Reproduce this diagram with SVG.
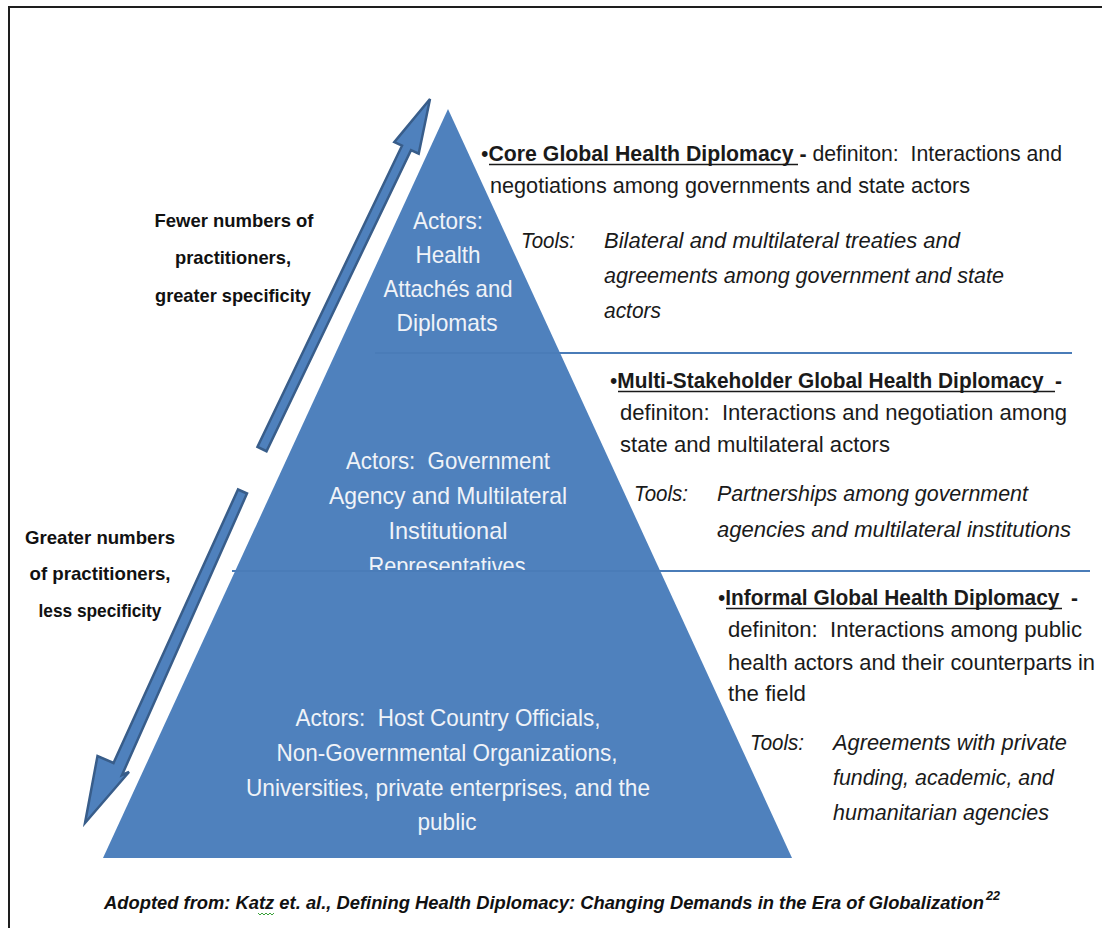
<svg xmlns="http://www.w3.org/2000/svg" width="1102" height="928" viewBox="0 0 1102 928">
<style>
text{font-family:"Liberation Sans",Arial,sans-serif;white-space:pre}
.pt{fill:#f0f3f8;font-size:24px;text-anchor:middle}
.lb{fill:#111;font-size:19px;font-weight:bold;text-anchor:middle}
.rt{fill:#1a1a1a;font-size:22px}
.it{font-style:italic}
.b{font-weight:bold}
.ul{stroke:#1a1a1a;stroke-width:1.6}
.arrow{fill:#4f81bd;stroke:#385d8a;stroke-width:2.5;stroke-linejoin:miter}
.sep{stroke:#4a7cb8;stroke-width:2;fill:none}
</style>
<defs>
<clipPath id="midclip"><rect x="0" y="0" width="1102" height="570"/></clipPath>
</defs>
<rect width="1102" height="928" fill="#ffffff"/>
<path d="M9,928 V7 H1102" fill="none" stroke="#1e1e1e" stroke-width="2"/>

<g id="pyramid">
<polygon points="448,109 792,858 103,858" fill="#4f81bd"/>
</g>

<g id="connectors">
<line class="sep" x1="375" y1="353" x2="1072" y2="353"/>
<line class="sep" x1="232" y1="571" x2="1090" y2="571"/>
<polygon class="arrow" points="257.5,446.8 402,145.7 394.3,142.1 430,99 418.7,153.7 411,150.1 266.5,451.2"/>
<polygon class="arrow" points="238,489.5 113.5,763 97.5,756 85,823 129,772 122,775 247,493.5"/>
</g>

<g id="tier-top">
<text class="pt" x="448" y="229" textLength="70" lengthAdjust="spacingAndGlyphs">Actors:</text>
<text class="pt" x="448" y="263" textLength="65" lengthAdjust="spacingAndGlyphs">Health</text>
<text class="pt" x="448" y="297" textLength="129" lengthAdjust="spacingAndGlyphs">Attachés and</text>
<text class="pt" x="447" y="331" textLength="101" lengthAdjust="spacingAndGlyphs">Diplomats</text>
</g>

<g id="tier-middle" clip-path="url(#midclip)">
<text class="pt" x="448" y="469" textLength="204" lengthAdjust="spacingAndGlyphs">Actors:  Government</text>
<text class="pt" x="448" y="504" textLength="238" lengthAdjust="spacingAndGlyphs">Agency and Multilateral</text>
<text class="pt" x="448" y="539" textLength="119" lengthAdjust="spacingAndGlyphs">Institutional</text>
<text class="pt" x="447" y="574" textLength="157" lengthAdjust="spacingAndGlyphs">Representatives</text>
</g>

<g id="tier-bottom">
<text class="pt" x="448" y="726" textLength="305" lengthAdjust="spacingAndGlyphs">Actors:  Host Country Officials,</text>
<text class="pt" x="447" y="761" textLength="341" lengthAdjust="spacingAndGlyphs">Non-Governmental Organizations,</text>
<text class="pt" x="448" y="796" textLength="404" lengthAdjust="spacingAndGlyphs">Universities, private enterprises, and the</text>
<text class="pt" x="447" y="830" textLength="59" lengthAdjust="spacingAndGlyphs">public</text>
</g>

<g id="label-fewer">
<text class="lb" x="234" y="227" textLength="159" lengthAdjust="spacingAndGlyphs">Fewer numbers of</text>
<text class="lb" x="233" y="264" textLength="116" lengthAdjust="spacingAndGlyphs">practitioners,</text>
<text class="lb" x="233" y="302" textLength="156" lengthAdjust="spacingAndGlyphs">greater specificity</text>
</g>

<g id="label-greater">
<text class="lb" x="100" y="544" textLength="150" lengthAdjust="spacingAndGlyphs">Greater numbers</text>
<text class="lb" x="100" y="580" textLength="141" lengthAdjust="spacingAndGlyphs">of practitioners,</text>
<text class="lb" x="100" y="617" textLength="123" lengthAdjust="spacingAndGlyphs">less specificity</text>
</g>

<g id="core">
<text class="rt" x="481" y="161" textLength="581" lengthAdjust="spacingAndGlyphs">•<tspan class="b">Core Global Health Diplomacy -</tspan> definiton:  Interactions and</text>
<line class="ul" x1="489" y1="164.5" x2="798" y2="164.5"/>
<text class="rt" x="490" y="193" textLength="480" lengthAdjust="spacingAndGlyphs">negotiations among governments and state actors</text>
<text class="rt it" x="521" y="248" textLength="54" lengthAdjust="spacingAndGlyphs">Tools:</text>
<text class="rt it" x="604" y="248" textLength="356" lengthAdjust="spacingAndGlyphs">Bilateral and multilateral treaties and</text>
<text class="rt it" x="604" y="283" textLength="400" lengthAdjust="spacingAndGlyphs">agreements among government and state</text>
<text class="rt it" x="604" y="318" textLength="57" lengthAdjust="spacingAndGlyphs">actors</text>
</g>

<g id="multi">
<text class="rt" x="610" y="388" textLength="452" lengthAdjust="spacingAndGlyphs">•<tspan class="b">Multi-Stakeholder Global Health Diplomacy  -</tspan></text>
<line class="ul" x1="618" y1="391.5" x2="1055" y2="391.5"/>
<text class="rt" x="620" y="420" textLength="447" lengthAdjust="spacingAndGlyphs">definiton:  Interactions and negotiation among</text>
<text class="rt" x="620" y="452" textLength="270" lengthAdjust="spacingAndGlyphs">state and multilateral actors</text>
<text class="rt it" x="634" y="501" textLength="54" lengthAdjust="spacingAndGlyphs">Tools:</text>
<text class="rt it" x="717" y="501" textLength="311" lengthAdjust="spacingAndGlyphs">Partnerships among government</text>
<text class="rt it" x="717" y="537" textLength="354" lengthAdjust="spacingAndGlyphs">agencies and multilateral institutions</text>
</g>

<g id="informal">
<text class="rt" x="718" y="605" textLength="360" lengthAdjust="spacingAndGlyphs">•<tspan class="b">Informal Global Health Diplomacy  -</tspan></text>
<line class="ul" x1="726" y1="608.5" x2="1062" y2="608.5"/>
<text class="rt" x="728" y="637" textLength="354" lengthAdjust="spacingAndGlyphs">definiton:  Interactions among public</text>
<text class="rt" x="728" y="670" textLength="367" lengthAdjust="spacingAndGlyphs">health actors and their counterparts in</text>
<text class="rt" x="728" y="701" textLength="78" lengthAdjust="spacingAndGlyphs">the field</text>
<text class="rt it" x="750" y="750" textLength="54" lengthAdjust="spacingAndGlyphs">Tools:</text>
<text class="rt it" x="833" y="750" textLength="234" lengthAdjust="spacingAndGlyphs">Agreements with private</text>
<text class="rt it" x="833" y="785" textLength="221" lengthAdjust="spacingAndGlyphs">funding, academic, and</text>
<text class="rt it" x="833" y="820" textLength="216" lengthAdjust="spacingAndGlyphs">humanitarian agencies</text>
</g>

<g id="caption">
<text x="104" y="909" font-size="18" font-weight="bold" font-style="italic" fill="#111" textLength="880" lengthAdjust="spacingAndGlyphs">Adopted from: Katz et. al., Defining Health Diplomacy: Changing Demands in the Era of Globalization</text>
<text x="986" y="900" font-size="12" font-weight="bold" font-style="italic" fill="#111" textLength="14" lengthAdjust="spacingAndGlyphs">22</text>
<polyline points="258,913 260,915 262,913 264,915 266,913 268,915 270,913 272,915 274,913" fill="none" stroke="#3aa23a" stroke-width="1"/>
</g>
</svg>
